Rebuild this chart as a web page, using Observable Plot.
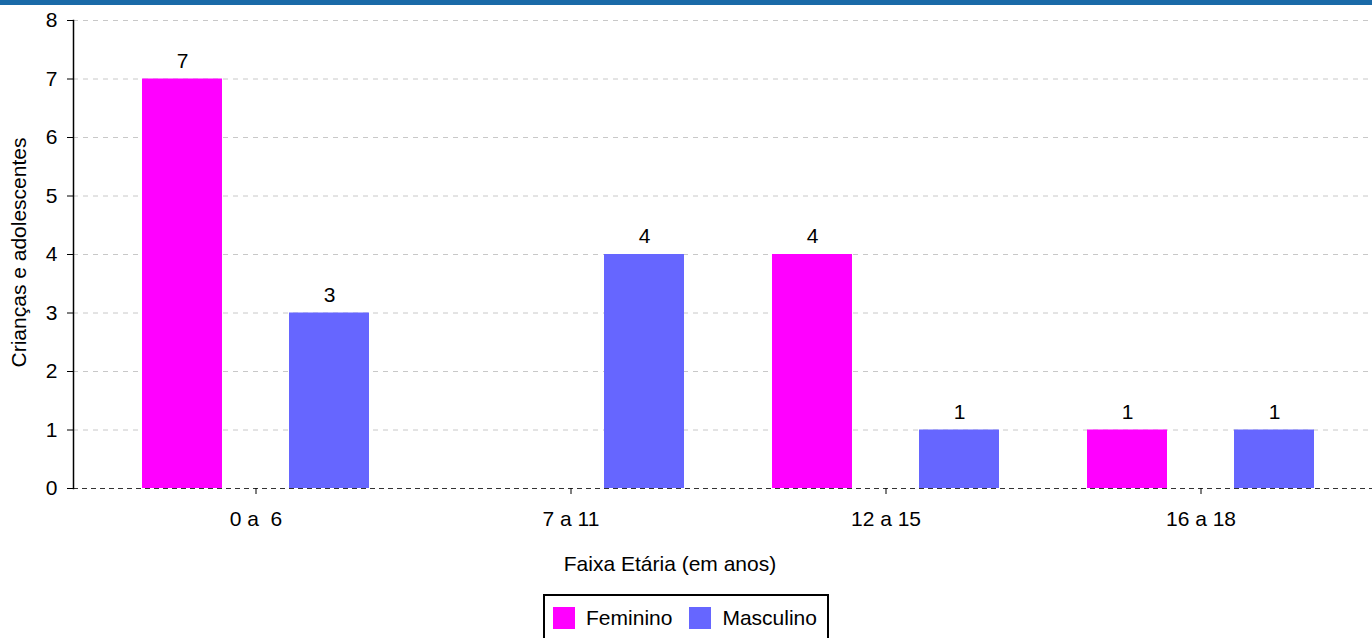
<!DOCTYPE html>
<html>
<head>
<meta charset="utf-8">
<script src="https://cdn.jsdelivr.net/npm/d3@7"></script>
<script src="https://cdn.jsdelivr.net/npm/@observablehq/plot@0.6"></script>
<style>
  html, body { margin: 0; padding: 0; background: #fff; }
  body { width: 1372px; height: 638px; overflow: hidden; font-family: "Liberation Sans", Arial, sans-serif; }
  #topbar { height: 5px; background: #1a6aa8; }
  #chart svg text { white-space: pre; }
  #legend {
    display: flex; justify-content: center; margin-top: 4px;
  }
  #legend .box {
    display: flex; align-items: center; border: 2px solid #000; padding: 11px 10px 11px 8px;
    font-size: 21px; color: #000; line-height: 22px;
  }
  #legend .item { display: flex; align-items: center; margin-right: 17px; }
  #legend .item:last-child { margin-right: 0; }
  #legend .sw { width: 22px; height: 22px; margin-right: 11px; }
</style>
</head>
<body>
<div id="topbar"></div>
<div id="chart"></div>
<div id="legend"></div>
<script>
const categories = ["0 a  6", "7 a 11", "12 a 15", "16 a 18"];
const series = ["Feminino", "Masculino"];
const feminino = [7, 0, 4, 1];
const masculino = [3, 4, 1, 1];
const yTicks = [0, 1, 2, 3, 4, 5, 6, 7, 8];
const colors = ["#ff00ff", "#6666ff"];
const xTitle = "Faixa Etária (em anos)";
const yTitle = "Crianças e adolescentes";

const fem = categories.map((c, i) => ({cat: c, sex: series[0], v: feminino[i]}));
const mas = categories.map((c, i) => ({cat: c, sex: series[1], v: masculino[i]}));

const font = "Liberation Sans, Arial, sans-serif";
const fs = 21;

const plot = Plot.plot({
  width: 1372,
  height: 585,
  marginLeft: 73,
  marginRight: 0,
  marginTop: 15,
  marginBottom: 102,
  style: {fontFamily: font, fontSize: fs + "px", color: "#000", background: "#fff"},
  x: {domain: categories, paddingInner: 0, paddingOuter: 0.0575, align: 0.64, label: null},
  y: {domain: [0, 8], label: null},
  marks: [
    Plot.ruleY(yTicks.filter(d => d > 0), {stroke: "#c8c8c8", strokeWidth: 1, strokeDasharray: "5,5"}),
    Plot.barY(fem.filter(d => d.v > 0), {x: "cat", y: "v", fill: colors[0], insetLeft: 44, insetRight: 191}),
    Plot.barY(mas.filter(d => d.v > 0), {x: "cat", y: "v", fill: colors[1], insetLeft: 191, insetRight: 44}),
    Plot.text(fem.filter(d => d.v > 0), {x: "cat", y: "v", text: d => String(d.v), dx: -73.5, dy: -18, fontSize: fs, fill: "#000"}),
    Plot.text(mas.filter(d => d.v > 0), {x: "cat", y: "v", text: d => String(d.v), dx: 73.5, dy: -18, fontSize: fs, fill: "#000"}),
    Plot.ruleY([0], {stroke: "#333", strokeWidth: 1.2, strokeDasharray: "5,4"}),
    Plot.frame({anchor: "left", stroke: "#000", strokeWidth: 1.5}),
    Plot.axisY({ticks: yTicks, tickSize: 6, tickPadding: 10, fontSize: fs, label: null, stroke: "#000"}),
    Plot.axisX({tickSize: 6, tickPadding: 17, fontSize: fs, label: null, stroke: "#000"}),
    Plot.text([xTitle], {frameAnchor: "bottom", lineAnchor: "middle", textAnchor: "middle", dy: 76, dx: -53, fontSize: fs, fill: "#000"}),
    Plot.text([yTitle], {frameAnchor: "left", rotate: -90, lineAnchor: "middle", textAnchor: "middle", dx: -54, dy: -2, fontSize: fs, fill: "#000"})
  ]
});
document.getElementById("chart").appendChild(plot);

const legend = document.getElementById("legend");
const box = document.createElement("div");
box.className = "box";
series.forEach((s, i) => {
  const item = document.createElement("div");
  item.className = "item";
  const sw = document.createElement("span");
  sw.className = "sw";
  sw.style.background = colors[i];
  const t = document.createElement("span");
  t.textContent = s;
  item.appendChild(sw);
  item.appendChild(t);
  box.appendChild(item);
});
legend.appendChild(box);
</script>
</body>
</html>
